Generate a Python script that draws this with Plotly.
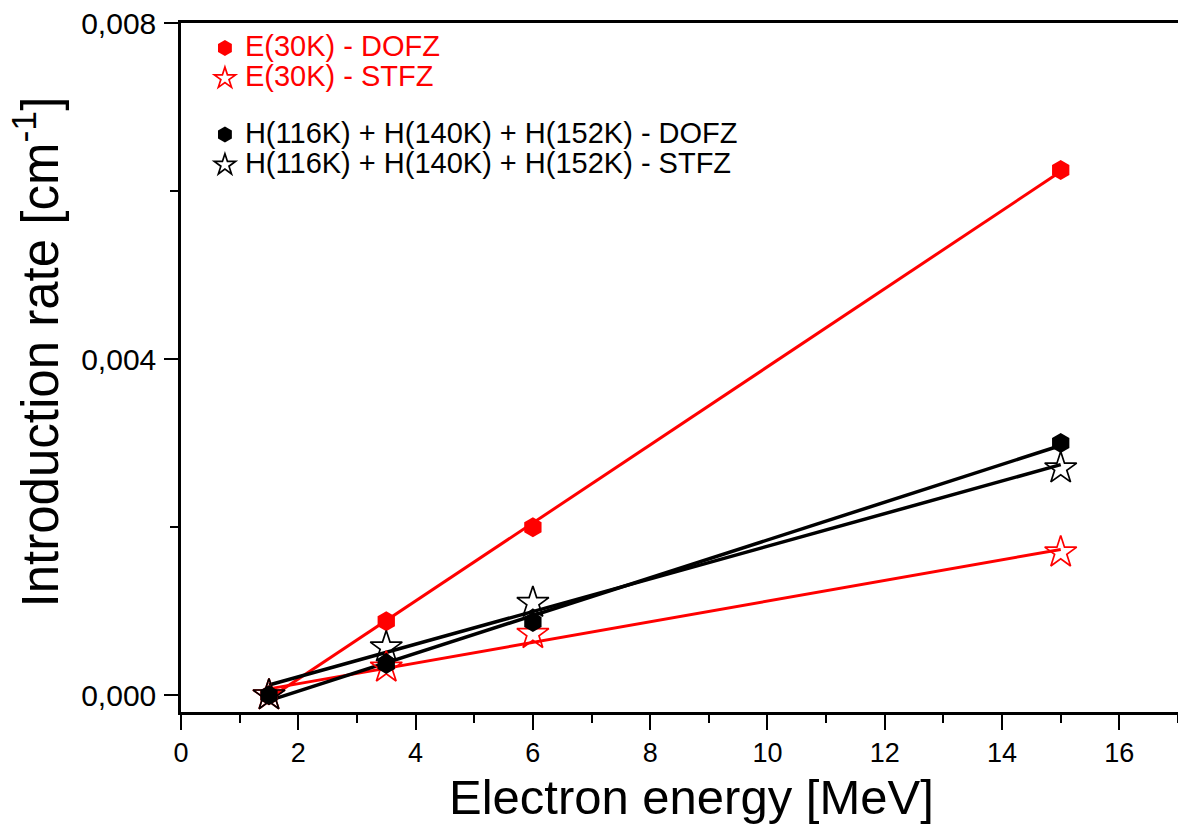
import numpy as np
import plotly.graph_objects as go

# Electron energies (MeV)
energy = [1.5, 3.5, 6.0, 15.0]

# Introduction rates (cm^-1)
e30k_dofz = [0.0, 0.00088, 0.00200, 0.00625]
e30k_stfz = [0.0, 0.00033, 0.00073, 0.00170]
h_sum_dofz = [0.0, 0.00037, 0.00087, 0.00300]
h_sum_stfz = [0.0, 0.00057, 0.00110, 0.00270]

RED = "#ff0000"
BLACK = "#000000"

series = [
    dict(y=e30k_dofz, color=RED, symbol="hexagon", group="E",
         name="E(30K) - DOFZ", lw=3),
    dict(y=e30k_stfz, color=RED, symbol="star-open", group="E",
         name="E(30K) - STFZ", lw=3),
    dict(y=h_sum_dofz, color=BLACK, symbol="hexagon", group="H",
         name="H(116K) + H(140K) + H(152K) - DOFZ", lw=3.5),
    dict(y=h_sum_stfz, color=BLACK, symbol="star-open", group="H",
         name="H(116K) + H(140K) + H(152K) - STFZ", lw=3.5),
]

fig = go.Figure()

# Linear fits over the measured energy span
x_arr = np.array(energy)
x_fit = np.array([x_arr.min(), x_arr.max()])
for s in series:
    slope, icpt = np.polyfit(x_arr, np.array(s["y"]), 1)
    fig.add_trace(go.Scatter(
        x=x_fit, y=slope * x_fit + icpt, mode="lines",
        line=dict(color=s["color"], width=s["lw"]),
        showlegend=False, hoverinfo="skip", legendgroup=s["group"],
    ))

# Measured points
for s in series:
    is_star = s["symbol"] == "star-open"
    fig.add_trace(go.Scatter(
        x=energy, y=s["y"], mode="markers",
        name=(f'<span style="font-size:29px;color:{s["color"]}">'
              f'{s["name"]}</span>'),
        legendgroup=s["group"],
        marker=dict(
            symbol=s["symbol"],
            size=24 if is_star else 20,
            color=s["color"],
            line=dict(color=s["color"], width=1.7 if is_star else 0),
        ),
    ))

font_family = "Liberation Sans, Arial, sans-serif"

# Axis titles, placed in paper coordinates
fig.add_annotation(
    text="Electron energy [MeV]", xref="paper", yref="paper",
    x=0.512, y=-0.124, xanchor="center", yanchor="middle",
    showarrow=False, font=dict(size=49, family=font_family, color="black"),
)
fig.add_annotation(
    text="Introduction rate [cm<sup>-1</sup>]", xref="paper", yref="paper",
    x=-0.145, y=0.5225, xanchor="center", yanchor="middle", textangle=-90,
    showarrow=False, font=dict(size=51, family=font_family, color="black"),
)

fig.update_layout(
    width=1178, height=827,
    margin=dict(l=181, r=0, t=23, b=115),
    paper_bgcolor="white", plot_bgcolor="white",
    separators=", ",
    font=dict(family=font_family, color="black"),
    showlegend=True,
    legend=dict(
        x=0.024, y=0.993, xanchor="left", yanchor="top",
        bgcolor="rgba(0,0,0,0)", borderwidth=0,
        font=dict(size=21, family=font_family),
        traceorder="grouped", tracegroupgap=26,
        itemsizing="trace",
    ),
    xaxis=dict(
        range=[0, 17], showgrid=False, zeroline=False,
        showline=True, linecolor="black", linewidth=2.5, mirror=True,
        ticks="outside", ticklen=15, tickwidth=2, tickcolor="black",
        tick0=0, dtick=2,
        minor=dict(ticks="outside", ticklen=8, tickwidth=2,
                   tickcolor="black", dtick=1, showgrid=False),
        tickfont=dict(size=27, family=font_family),
        ticklabelstandoff=0,
    ),
    yaxis=dict(
        range=[-0.0002, 0.008], showgrid=False, zeroline=False,
        showline=True, linecolor="black", linewidth=2.5, mirror=False,
        ticks="outside", ticklen=14, tickwidth=2, tickcolor="black",
        tick0=0, dtick=0.004, tickformat=".3f",
        minor=dict(ticks="outside", ticklen=8, tickwidth=2,
                   tickcolor="black", dtick=0.002, showgrid=False),
        tickfont=dict(size=30, family=font_family),
        ticklabelstandoff=2,
    ),
)

fig.write_html("out.html")
